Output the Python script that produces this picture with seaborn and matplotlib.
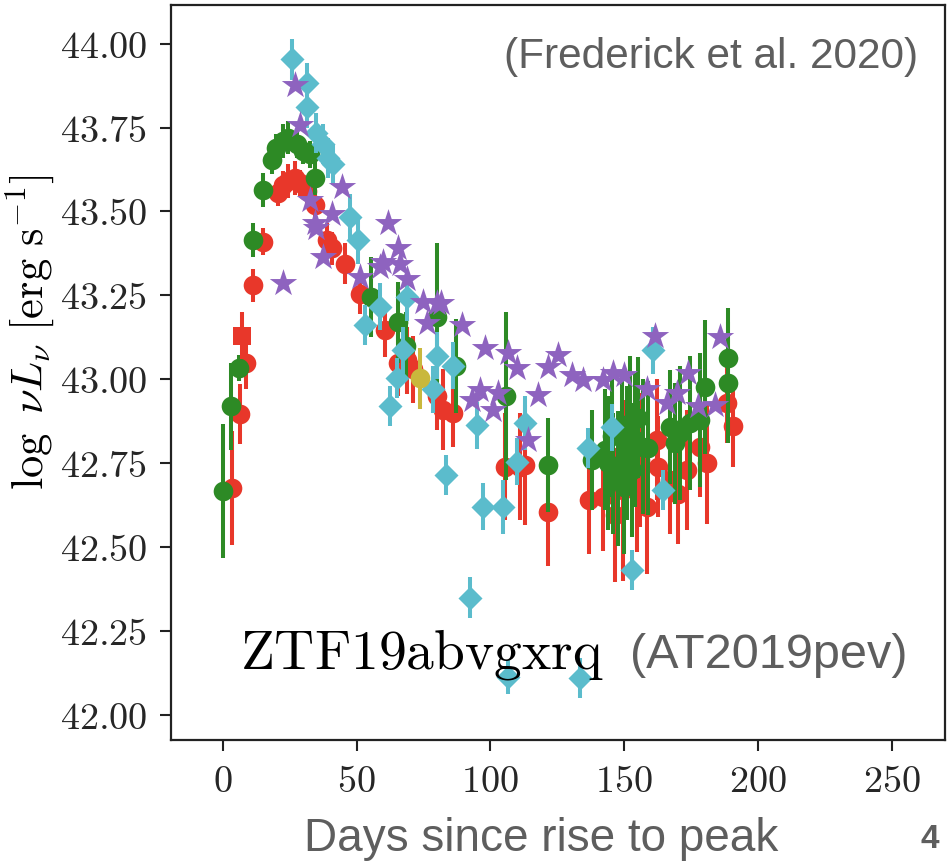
import matplotlib
matplotlib.use("Agg")
import matplotlib.pyplot as plt
import numpy as np
import pandas as pd
import seaborn as sns

# ---- light-curve data: days since rise, log nuL_nu and 1-sigma errors ----
g_days = [0, 3, 6, 11.2, 15, 18.3, 20, 22.5, 24.4, 27.6, 30, 32.5, 34.4, 55.5, 65.5, 68.5,
          80, 87, 106, 121.5, 138, 142.9, 144, 145.5, 146, 147.8, 149.2, 150, 151, 152.2,
          153, 154, 155.2, 157, 159, 167, 169, 171, 174.7, 178.4, 180.3, 188.9, 188.9]
g_lum = [42.668, 42.92, 43.034, 43.415, 43.564, 43.653, 43.69, 43.71, 43.72, 43.70, 43.68,
         43.67, 43.60, 43.245, 43.17, 43.10, 43.185, 43.04, 42.95, 42.745, 42.76, 42.79,
         42.75, 42.83, 42.72, 42.705, 42.84, 42.68, 42.78, 42.87, 42.73, 42.82, 42.886,
         42.80, 42.795, 42.857, 42.81, 42.84, 42.87, 42.88, 42.977, 43.064, 42.99]
g_err = [0.20, 0.13, 0.04, 0.05, 0.05, 0.04, 0.04, 0.05, 0.05, 0.04, 0.04, 0.04, 0.05, 0.12,
         0.12, 0.10, 0.22, 0.14, 0.25, 0.14, 0.15, 0.18, 0.2, 0.18, 0.18, 0.2, 0.18, 0.2,
         0.2, 0.2, 0.2, 0.2, 0.18, 0.2, 0.2, 0.17, 0.18, 0.2, 0.2, 0.2, 0.2, 0.15, 0.18]

r_days = [3.5, 6.4, 8.6, 11.3, 15, 20.7, 22.4, 24.3, 26.9, 29, 31.4, 34.4, 38.8, 40.7, 45.6,
          51.2, 60.6, 65.5, 68.8, 71, 80, 82.3, 86, 105.5, 111, 113, 121.5, 137, 142, 146.6,
          149.6, 154.8, 156, 158.5, 162.3, 162.7, 167, 170, 173.5, 178.4, 181, 188.5, 190.7]
r_lum = [42.676, 42.897, 43.05, 43.28, 43.41, 43.555, 43.58, 43.59, 43.60, 43.585, 43.56,
         43.52, 43.415, 43.39, 43.345, 43.255, 43.147, 43.05, 43.057, 43.03, 42.95, 42.91,
         42.90, 42.74, 42.74, 42.745, 42.605, 42.64, 42.65, 42.596, 42.67, 42.685, 42.76,
         42.62, 42.82, 42.74, 42.70, 42.66, 42.73, 42.80, 42.75, 42.93, 42.86]
r_err = [0.17, 0.09, 0.08, 0.05, 0.04, 0.04, 0.04, 0.05, 0.05, 0.04, 0.04, 0.04, 0.05, 0.05,
         0.06, 0.06, 0.08, 0.1, 0.1, 0.1, 0.1, 0.12, 0.1, 0.16, 0.16, 0.18, 0.16, 0.16, 0.16,
         0.2, 0.27, 0.2, 0.2, 0.2, 0.18, 0.15, 0.16, 0.15, 0.18, 0.15, 0.18, 0.12, 0.12]

r_sq_days = [7.1]
r_sq_lum = [43.13]
r_sq_err = [0.07]

uv_days = [25.7, 31.3, 31.4, 35, 37.5, 39.3, 41, 47.5, 50.6, 53, 58.7, 62.5, 65, 67.3, 68.8,
           78.5, 80, 83.5, 86, 92.4, 95.2, 97.3, 104.8, 106.7, 110, 113, 133.5, 136.5,
           145.5, 153, 161, 164.6]
uv_lum = [43.953, 43.882, 43.81, 43.733, 43.70, 43.66, 43.64, 43.483, 43.415, 43.162,
          43.216, 42.92, 43.004, 43.087, 43.245, 42.97, 43.07, 42.715, 43.04, 42.35, 42.864,
          42.62, 42.62, 42.113, 42.755, 42.87, 42.11, 42.795, 42.858, 42.432, 43.087, 42.67]
uv_err = [0.06, 0.06, 0.06, 0.06, 0.06, 0.06, 0.06, 0.07, 0.07, 0.06, 0.07, 0.06, 0.06, 0.07,
          0.07, 0.07, 0.07, 0.06, 0.07, 0.06, 0.07, 0.07, 0.08, 0.05, 0.07, 0.08, 0.06, 0.06,
          0.07, 0.06, 0.07, 0.06]

x_days = [22.4, 26.9, 28.8, 32.5, 34.4, 35, 37.5, 40.7, 44.5, 51.2, 58.7, 60, 61.7, 65.4,
          66.2, 68.8, 75, 76.3, 80, 81.6, 89.4, 93, 96, 98, 101, 103, 106.7, 110, 114,
          117.8, 121.5, 125.3, 130.5, 134.6, 142, 146, 150, 158.5, 161.6, 166, 169.8,
          173.9, 177.6, 184, 185.9]
x_lum = [43.286, 43.876, 43.757, 43.534, 43.465, 43.45, 43.364, 43.494, 43.573, 43.305,
         43.334, 43.35, 43.467, 43.39, 43.345, 43.30, 43.23, 43.167, 43.226, 43.226, 43.162,
         42.94, 42.968, 43.093, 42.91, 42.96, 43.078, 43.034, 42.82, 42.953, 43.037, 43.072,
         43.013, 42.998, 42.998, 43.019, 43.013, 42.97, 43.13, 42.93, 42.96, 43.019, 42.92,
         42.923, 43.125]

o_days = [73.7]
o_lum = [43.003]
o_err = [0.09]

y_ticks = [42.00, 42.25, 42.50, 42.75, 43.00, 43.25, 43.50, 43.75, 44.00]
x_ticks = [0, 50, 100, 150, 200, 250]

# ---- style ----
sns.set_style("ticks")
plt.rcParams["mathtext.fontset"] = "cm"
plt.rcParams["font.family"] = ["Liberation Sans", "DejaVu Sans"]

fig = plt.figure(figsize=(9.51, 8.61), dpi=100)
ax = fig.add_axes([171 / 951, 1 - 740 / 861, (945 - 171) / 951, (740 - 5) / 861])

bands = [
    # days, lum, err, color, marker, size
    (r_days, r_lum, r_err, "#e8372a", "o", 200),
    (g_days, g_lum, g_err, "#2d8a25", "o", 200),
    (r_sq_days, r_sq_lum, r_sq_err, "#e8372a", "s", 170),
    (uv_days, uv_lum, uv_err, "#5bbccc", "D", 150),
    (x_days, x_lum, None, "#8e63bf", "*", 430),
    (o_days, o_lum, o_err, "#c9b83c", "o", 200),
]

for i, (d, l, e, c, m, s) in enumerate(bands):
    if e is not None:
        ax.errorbar(d, l, yerr=e, fmt="none", ecolor=c, elinewidth=2.9, capsize=0,
                    zorder=2 + 2 * i)
    df = pd.DataFrame({"days": d, "lum": l})
    sns.scatterplot(data=df, x="days", y="lum", ax=ax, color=c, marker=m, s=s,
                    linewidth=0, zorder=3 + 2 * i, legend=False)

ax.set_xlim(-19.4, 270.0)
ax.set_ylim(41.926, 44.115)
ax.set_xticks(x_ticks, labels=[f"${v:d}$" for v in x_ticks])
ax.set_yticks(y_ticks, labels=[f"${v:.2f}$" for v in y_ticks])
ax.tick_params(axis="both", labelsize=27.5, length=8, width=1.5, color="#222222",
               direction="out", pad=9)
for sp in ax.spines.values():
    sp.set_linewidth(1.6)
    sp.set_color("#222222")
ax.set_xlabel("")
ax.set_ylabel("")

fig.text(30 / 951, 1 - 332 / 861, r"$\log\ \nu L_\nu\ [\mathrm{erg\ s^{-1}}]$",
         rotation=90, ha="center", va="center", fontsize=32, color="black")

gray = "#5e5e5e"
fig.text(918 / 951, 1 - 68 / 861, "(Frederick et al. 2020)", ha="right", va="baseline",
         fontsize=30.5, color=gray)
fig.text(240 / 951, 1 - 668 / 861, r"$\mathrm{ZTF19abvgxrq}$", ha="left", va="baseline",
         fontsize=40, color="black")
fig.text(630 / 951, 1 - 668 / 861, "(AT2019pev)", ha="left", va="baseline",
         fontsize=35, color=gray)
fig.text(541 / 951, 1 - 851 / 861, "Days since rise to peak", ha="center", va="baseline",
         fontsize=33, color=gray)
fig.text(930 / 951, 1 - 848 / 861, "4", ha="center", va="baseline", fontsize=24,
         fontweight="bold", color=gray)

fig.savefig("out.png", dpi=100)
